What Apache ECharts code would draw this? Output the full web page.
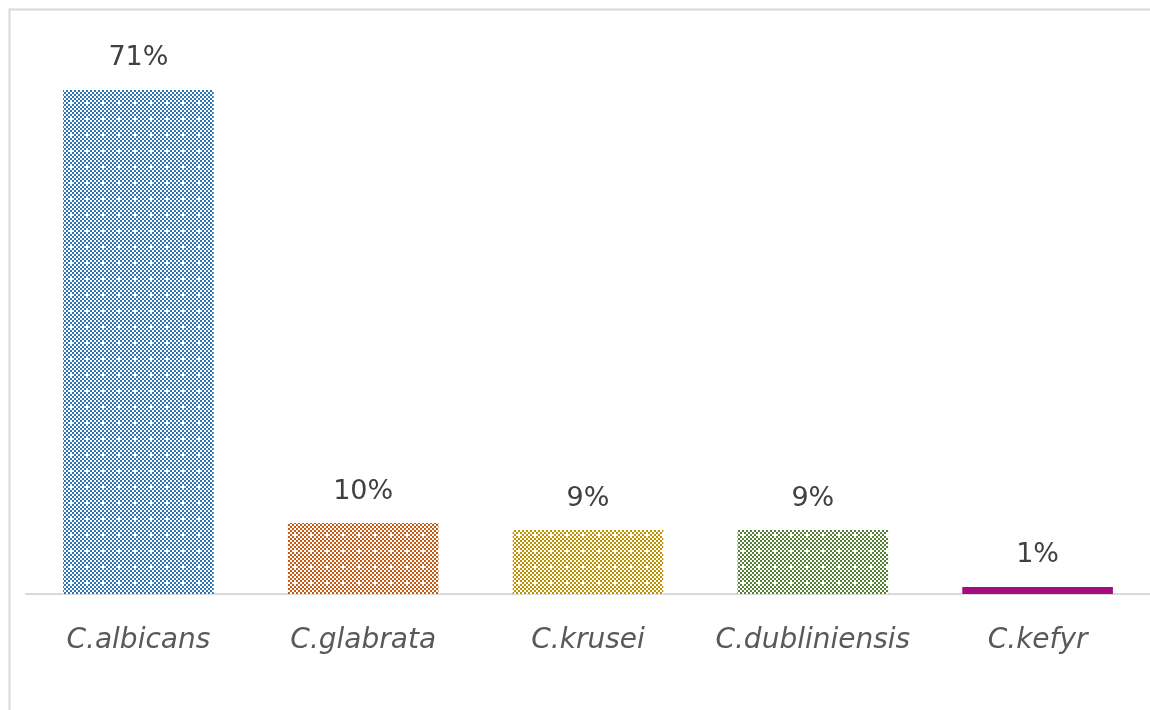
<!DOCTYPE html>
<html>
<head>
<meta charset="utf-8">
<script src="https://cdn.jsdelivr.net/npm/echarts@6/dist/echarts.min.js"></script>
<style>
  html, body { margin: 0; padding: 0; background: #ffffff; }
  #chart { width: 1150px; height: 710px; }
</style>
</head>
<body>
<div id="chart"></div>
<script>
// Species share (%) of isolated Candida strains
const categories = ['C.albicans', 'C.glabrata', 'C.krusei', 'C.dubliniensis', 'C.kefyr'];
const shares = [71, 10, 9, 9, 1];
const barColors = ['#2E75B6', '#C55A11', '#BF9000', '#548235', '#A50B80'];
const patterned = [true, true, true, true, false];

// Checkerboard fill tile (2px cells) with a sparse open cell
function checkerTile(color) {
  const c = document.createElement('canvas');
  c.width = 16; c.height = 16;
  const ctx = c.getContext('2d');
  ctx.fillStyle = '#ffffff';
  ctx.fillRect(0, 0, 16, 16);
  ctx.fillStyle = color;
  for (let y = 0; y < 8; y++) {
    for (let x = 0; x < 8; x++) {
      if ((x + y) % 2 === 0) {
        if (x === 3 && y === 3) continue;
        ctx.fillRect(x * 2, y * 2, 2, 2);
      }
    }
  }
  return c;
}

const chart = echarts.init(document.getElementById('chart'));
const data = shares.map((v, i) => ({
  value: v,
  itemStyle: {
    color: patterned[i] ? { image: checkerTile(barColors[i]), repeat: 'repeat' } : barColors[i]
  }
}));

chart.setOption({
  animation: false,
  backgroundColor: '#ffffff',
  graphic: [{
    type: 'rect',
    shape: { x: 9.5, y: 9.5, width: 1160, height: 720 },
    style: { fill: 'none', stroke: '#d9d9d9', lineWidth: 2 },
    silent: true
  }],
  grid: { left: 26, right: -7, top: 26, bottom: 116 },
  xAxis: {
    type: 'category',
    data: categories,
    axisLine: { lineStyle: { color: '#d9d9d9', width: 2 } },
    axisTick: { show: false },
    axisLabel: {
      interval: 0,
      fontFamily: 'DejaVu Sans',
      fontStyle: 'italic',
      fontSize: 28,
      color: '#595959',
      margin: 33
    }
  },
  yAxis: {
    type: 'value',
    min: 0,
    max: 80,
    show: false
  },
  series: [{
    type: 'bar',
    data: data,
    barCategoryGap: '33%',
    label: {
      show: true,
      position: 'top',
      distance: 18,
      formatter: p => p.value + '%',
      fontFamily: 'DejaVu Sans',
      fontSize: 27,
      color: '#404040'
    }
  }]
});
</script>
</body>
</html>
